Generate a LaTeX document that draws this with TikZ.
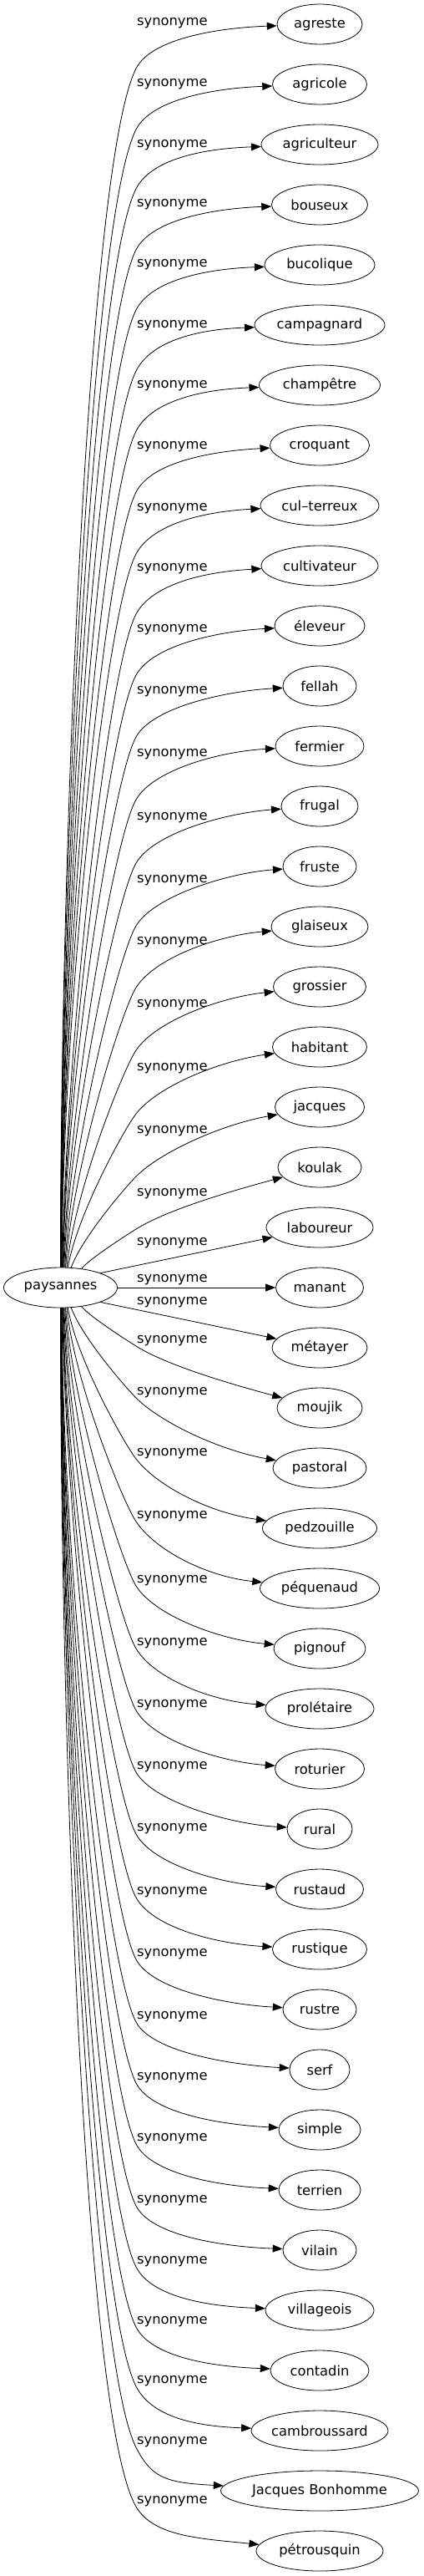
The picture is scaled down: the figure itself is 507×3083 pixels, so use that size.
\documentclass[tikz,border=0pt]{standalone}
\usepackage{fontspec}
\setmainfont{DejaVu Sans}
\usetikzlibrary{shapes.geometric,arrows.meta}
\newcommand\synedge[7]{%
  \pgfmathsetmacro\seglen{abs(#2-1541)-22}%
  \pgfmathsetmacro\Lone{0.35*\seglen}%
  \pgfmathsetmacro\Ltwo{0.084*\seglen+6}%
  \pgfmathsetmacro\Rad{#7/2+65}%
  \pgfmathsetmacro\thb{#5+180}%
  \pgfmathsetmacro\phb{#6+180}%
  \draw[edge] (pay.#3) .. controls +(#4:\Lone) and +(\thb:\Ltwo) .. (163,-#2) .. controls +(#5:42) and +(\phb:\Rad) .. (n#1);%
}
\begin{document}
\begin{tikzpicture}[x=1pt,y=1pt,
  word/.style={draw, ellipse, inner sep=0pt, minimum height=48pt, line width=0.8pt,
    font=\fontsize{16.3pt}{19pt}\selectfont},
  lab/.style={anchor=base west, inner sep=0pt, font=\fontsize{16.3pt}{19pt}\selectfont},
  edge/.style={-{Triangle[length=12pt,width=9pt]}, line width=0.8pt}]
\useasboundingbox (0,0) rectangle (507,-3083);
\node[word, minimum width=136pt] (pay) at (72.5,-1541) {paysannes};
\foreach \i/\t/\w in {0/agreste/102, 1/agricole/113, 2/agriculteur/140, 3/bouseux/115,
  4/bucolique/132, 5/campagnard/156, 6/champêtre/145, 7/croquant/119, 8/cul–terreux/142,
  9/cultivateur/140, 10/éleveur/108, 11/fellah/88, 12/fermier/106, 13/frugal/92,
  14/fruste/88, 15/glaiseux/116, 16/grossier/111, 17/habitant/113, 18/jacques/107,
  19/koulak/100, 20/laboureur/128, 21/manant/105, 22/métayer/114, 23/moujik/102,
  24/pastoral/112, 25/pedzouille/137, 26/péquenaud/143, 27/pignouf/110,
  28/prolétaire/130, 29/roturier/107, 30/rural/78, 31/rustaud/105, 32/rustique/113,
  33/rustre/88, 34/serf/72, 35/simple/98, 36/terrien/98, 37/vilain/88,
  38/villageois/130, 39/contadin/118, 40/cambroussard/164, 41/Jacques Bonhomme/237,
  42/pétrousquin/152}
  {\node[word, minimum width=\w pt] (n\i) at (383,{-(29+72*\i)}) {\t};}
\foreach \y [count=\c] in {26,99,172,243,315,388,460,533,607,679,752,826,901,977,1052,
  1126,1201,1277,1352,1427,1486,1530,1557,1603,1665,1738,1813,1890,1965,2039,2113,2187,
  2263,2337,2412,2485,2558,2632,2705,2777,2848,2921,2992}
  {\node[lab] (l\c) at (164,{-\y-4.5}) {synonyme};}
\synedge{0}{82}{90}{90}{63}{2}{102}
\synedge{1}{155}{90}{90}{63}{2}{113}
\synedge{2}{226}{89}{90}{63}{2}{140}
\synedge{3}{299}{89}{90}{63}{2}{115}
\synedge{4}{371}{88}{90}{63}{2}{132}
\synedge{5}{444}{88}{90}{63}{2}{156}
\synedge{6}{516}{87}{90}{63}{2}{145}
\synedge{7}{589}{87}{90}{63}{3}{119}
\synedge{8}{663}{86}{90}{62}{3}{142}
\synedge{9}{735}{85}{89}{62}{3}{140}
\synedge{10}{808}{84}{89}{61}{3}{108}
\synedge{11}{882}{83}{89}{61}{3}{88}
\synedge{12}{957}{82}{88}{60}{3}{106}
\synedge{13}{1033}{80}{88}{60}{4}{92}
\synedge{14}{1108}{78}{87}{59}{4}{88}
\synedge{15}{1182}{76}{86}{58}{5}{116}
\synedge{16}{1257}{73}{84}{56}{6}{111}
\synedge{17}{1333}{70}{80}{52}{8}{113}
\synedge{18}{1408}{62}{70}{45}{10}{107}
\synedge{19}{1471}{42}{50}{32}{15}{100}
\draw[edge] (pay.20) -- (n20);
\draw[edge] (pay.east) -- (n21);
\draw[edge] (pay.-20) -- (n22);
\synedge{23}{1611}{-42}{-50}{-32}{-15}{102}
\synedge{24}{1673}{-62}{-70}{-45}{-10}{112}
\synedge{25}{1746}{-70}{-80}{-52}{-8}{137}
\synedge{26}{1821}{-73}{-84}{-56}{-6}{143}
\synedge{27}{1898}{-76}{-86}{-58}{-5}{110}
\synedge{28}{1973}{-78}{-87}{-59}{-4}{130}
\synedge{29}{2047}{-80}{-88}{-60}{-4}{107}
\synedge{30}{2121}{-82}{-88}{-60}{-3}{78}
\synedge{31}{2195}{-83}{-89}{-61}{-3}{105}
\synedge{32}{2271}{-84}{-89}{-61}{-3}{113}
\synedge{33}{2345}{-85}{-89}{-62}{-3}{88}
\synedge{34}{2420}{-86}{-90}{-62}{-3}{72}
\synedge{35}{2493}{-87}{-90}{-63}{-3}{98}
\synedge{36}{2566}{-87}{-90}{-63}{-2}{98}
\synedge{37}{2640}{-88}{-90}{-63}{-2}{88}
\synedge{38}{2713}{-88}{-90}{-63}{-2}{130}
\synedge{39}{2785}{-89}{-90}{-63}{-2}{118}
\synedge{40}{2856}{-89}{-90}{-63}{-2}{164}
\synedge{41}{2929}{-90}{-90}{-63}{-3}{237}
\synedge{42}{3000}{-90}{-90}{-60}{-6}{152}
\end{tikzpicture}
\end{document}
